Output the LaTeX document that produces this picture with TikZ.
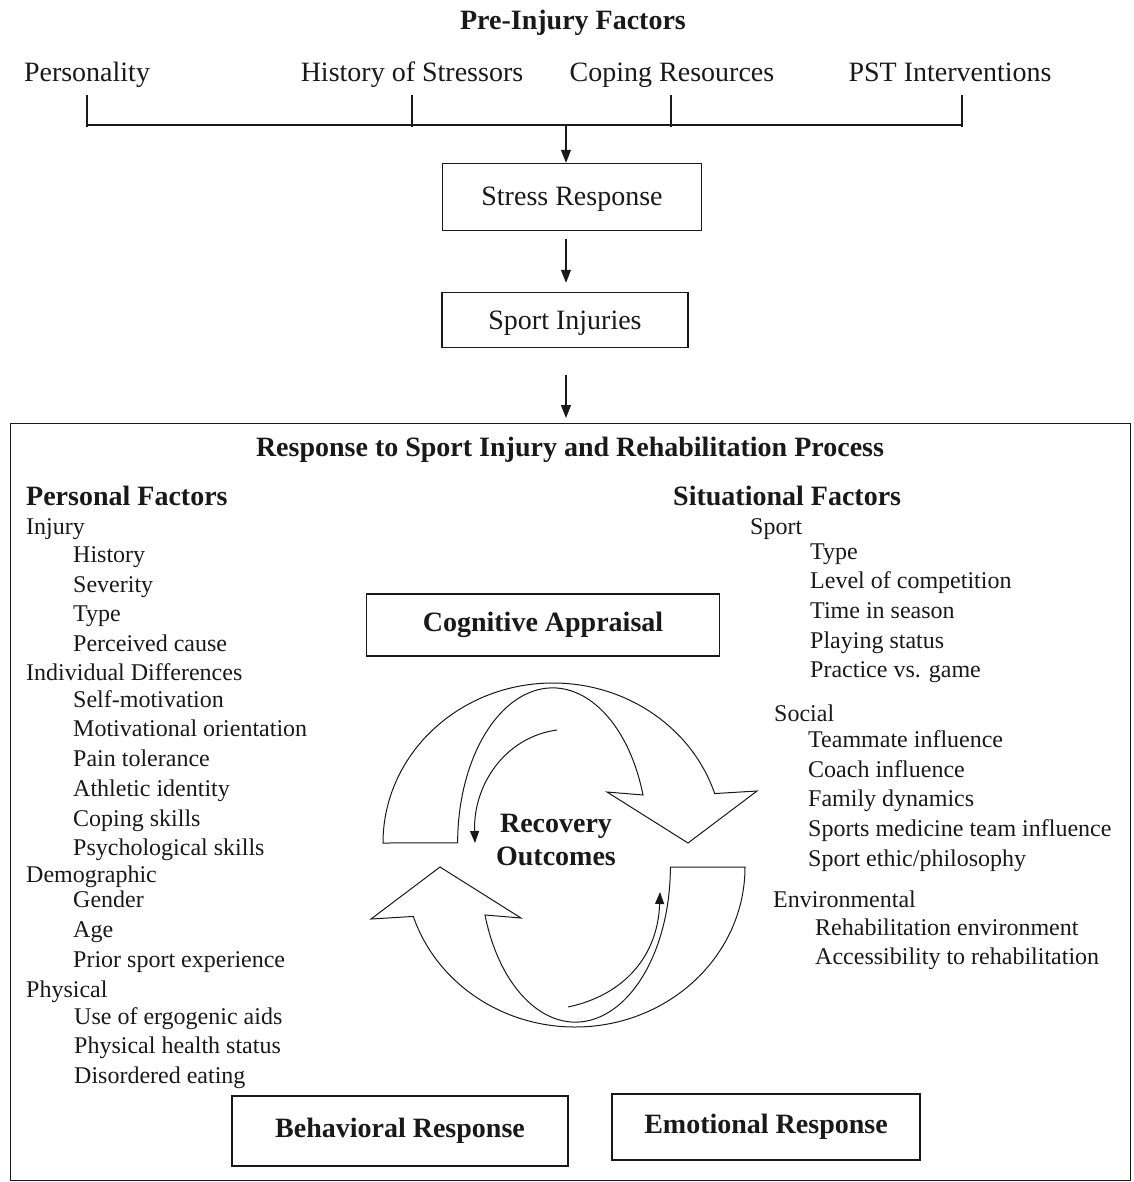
\documentclass[tikz,border=0pt]{standalone}
\usepackage{fontspec}
\setmainfont{Liberation Serif}
\usepackage{tikz}
\usetikzlibrary{arrows.meta, calc}
\definecolor{inkblack}{RGB}{25,25,25}

\begin{document}
\begin{tikzpicture}[x=1pt, y=-1pt, draw=inkblack, text=inkblack,
  lbl/.style={font=\fontsize{28}{33}\selectfont, inner sep=0pt, text height=22pt, text depth=4pt},
  hdr/.style={font=\fontsize{28}{33}\selectfont\bfseries, inner sep=0pt},
  item/.style={font=\fontsize{24}{28}\selectfont, anchor=west, inner sep=0pt, text height=17pt, text depth=6pt, yshift=-2pt},
  box/.style={draw, line width=1.4pt, inner sep=0pt},
  bar/.style={line width=1.2pt},
  flow/.style={line width=1.2pt, -{Triangle[length=13pt,width=10pt]}},
  band/.style={line width=1pt, fill=white, line join=miter},
  loop/.style={line width=1pt, -{Triangle[length=12pt,width=9pt]}}]
  \useasboundingbox (0,0) rectangle (1133,1182);

  % Pre-injury factors
  \node[hdr] (pre) at (573,23) {Pre-Injury Factors};
  \node[lbl] (pers) at (87,73) {Personality};
  \node[lbl] (hist) at (412,73) {History of Stressors};
  \node[lbl] (cope) at (672,73) {Coping Resources};
  \node[lbl] (pst) at (950,73) {PST Interventions};
  \foreach \x in {87,412,671,962}
    \draw[bar] (\x,95) -- (\x,127);
  \draw[bar] (87,125) -- (962,125);
  \coordinate (split) at (566,125);

  % Stress and injury
  \node[box, lbl, minimum width=259pt, minimum height=67pt] (stress) at (572,197) {Stress Response};
  \node[box, lbl, minimum width=246pt, minimum height=55pt] (injury) at (565,320) {Sport Injuries};
  \draw[flow] (split) -- (split |- stress.north);
  \draw[flow, shorten <=8pt, shorten >=9pt] (split |- stress.south) -- (split |- injury.north);

  % Response to injury
  \node[draw, line width=1.2pt, anchor=north west, minimum width=1120pt, minimum height=757pt, inner sep=0pt] (process) at (10,423) {};
  \draw[flow, shorten <=27pt, shorten >=5pt] (split |- injury.south) -- (split |- process.north);
  \node[hdr] (title) at (570,450) {Response to Sport Injury and Rehabilitation Process};
  \node[hdr, anchor=west] (personal) at (26,496) {Personal Factors};
  \node[hdr, anchor=west] (situational) at (673,496) {Situational Factors};

  % Personal factors
  \node[item] (injury0) at (26,527) {Injury};
  \node[item] (injury1) at (73,555) {History};
  \node[item] (injury2) at (73,585) {Severity};
  \node[item] (injury3) at (73,614) {Type};
  \node[item] (injury4) at (73,644) {Perceived cause};
  \node[item] (indiv0) at (26,673) {Individual Differences};
  \node[item] (indiv1) at (73,700) {Self-motivation};
  \node[item] (indiv2) at (73,729) {Motivational orientation};
  \node[item] (indiv3) at (73,759) {Pain tolerance};
  \node[item] (indiv4) at (73,789) {Athletic identity};
  \node[item] (indiv5) at (73,819) {Coping skills};
  \node[item] (indiv6) at (73,848) {Psychological skills};
  \node[item] (demo0) at (26,875) {Demographic};
  \node[item] (demo1) at (73,900) {Gender};
  \node[item] (demo2) at (73,930) {Age};
  \node[item] (demo3) at (73,960) {Prior sport experience};
  \node[item] (phys0) at (26,990) {Physical};
  \node[item] (phys1) at (74,1017) {Use of ergogenic aids};
  \node[item] (phys2) at (74,1046) {Physical health status};
  \node[item] (phys3) at (74,1076) {Disordered eating};

  % Situational factors
  \node[item] (sport0) at (750,527) {Sport};
  \node[item] (sport1) at (810,552) {Type};
  \node[item] (sport2) at (810,581) {Level of competition};
  \node[item] (sport3) at (810,611) {Time in season};
  \node[item] (sport4) at (810,641) {Playing status};
  \node[item] (sport5) at (810,670) {Practice vs. game};
  \node[item] (social0) at (774,714) {Social};
  \node[item] (social1) at (808,740) {Teammate influence};
  \node[item] (social2) at (808,770) {Coach influence};
  \node[item] (social3) at (808,799) {Family dynamics};
  \node[item] (social4) at (808,829) {Sports medicine team influence};
  \node[item] (social5) at (808,859) {Sport ethic/philosophy};
  \node[item] (env0) at (773,900) {Environmental};
  \node[item] (env1) at (815,928) {Rehabilitation environment};
  \node[item] (env2) at (815,957) {Accessibility to rehabilitation};

  % Cycle
  \node[box, hdr, minimum width=353pt, minimum height=62pt] (cog) at (543,625) {Cognitive Appraisal};
  \node[box, hdr, minimum width=336pt, minimum height=70pt] (behav) at (400,1131) {Behavioral Response};
  \node[box, hdr, minimum width=308pt, minimum height=66pt] (emot) at (766,1127) {Emotional Response};
  \draw[band] (383,843) arc[start angle=180, end angle=342, x radius=170, y radius=160]
    -- (757,791) -- (688,843) -- (607,792) -- (643,795)
    arc[start angle=342, end angle=180, x radius=95, y radius=155] -- cycle;
  \begin{scope}[rotate around={180:(564,855)}]
    \draw[band] (383,843) arc[start angle=180, end angle=342, x radius=170, y radius=160]
      -- (757,791) -- (688,843) -- (607,792) -- (643,795)
      arc[start angle=342, end angle=180, x radius=95, y radius=155] -- cycle;
  \end{scope}
  \node[hdr, align=center] (recov) at (556,840) {Recovery\\Outcomes};
  \coordinate (in1) at (557,730);
  \coordinate (out1) at (475,843);
  \coordinate (in2) at (568,1007);
  \coordinate (out2) at (660,892);
  \draw[loop] (in1) .. controls (505,737) and (473,785) .. (out1);
  \draw[loop] (in2) .. controls (625,995) and (658,955) .. (out2);
\end{tikzpicture}
\end{document}
